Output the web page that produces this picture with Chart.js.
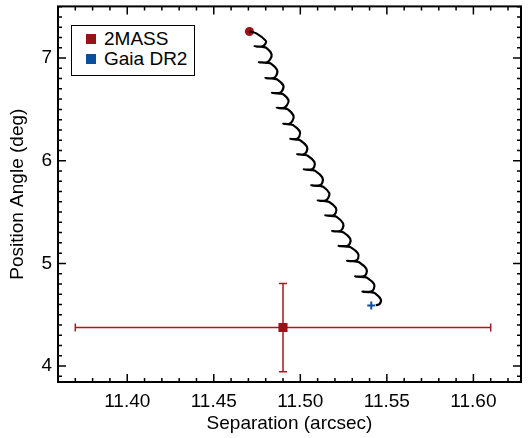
<!DOCTYPE html>
<html>
<head>
<meta charset="utf-8">
<script src="https://cdn.jsdelivr.net/npm/chart.js@4/dist/chart.umd.min.js"></script>
<style>
  body { margin: 0; background: #fff; }
  #wrap { position: relative; width: 528px; height: 438px; }
  .legend { position: absolute; left: 71px; top: 25px; width: 122px; height: 49px; border: 1px solid #000; background: #fff;
            font: 19px "Liberation Sans", Arial, sans-serif; color: #000; }
  .legend div { position: absolute; left: 14px; height: 20px; line-height: 20px; white-space: nowrap; }
  .legend span { display: inline-block; width: 10px; height: 10px; margin-right: 8px; vertical-align: 1px; }
</style>
</head>
<body>
<div id="wrap">
  <canvas id="chart" width="528" height="438"></canvas>
  <div class="legend">
    <div style="top:3px"><span style="background:#9b1116"></span>2MASS</div>
    <div style="top:23px"><span style="background:#0c4e9b"></span>Gaia DR2</div>
  </div>
</div>
<script>
/* --- DATA --- */
const sepTicks = [11.40, 11.45, 11.50, 11.55, 11.60];
const paTicks = [4, 5, 6, 7];

// predicted track (separation, position angle)
const pathSep = [
  11.4706, 11.4746, 11.4801, 11.4798,
  11.4781, 11.4735, 11.4781, 11.4804, 11.4834, 11.4824,
  11.4807, 11.4760, 11.4807, 11.4830, 11.4866, 11.4861,
  11.4844, 11.4798, 11.4844, 11.4867, 11.4902, 11.4896,
  11.4879, 11.4836, 11.4879, 11.4902, 11.4932, 11.4922,
  11.4905, 11.4864, 11.4905, 11.4928, 11.4961, 11.4953,
  11.4936, 11.4901, 11.4936, 11.4959, 11.4997, 11.4994,
  11.4977, 11.4942, 11.4977, 11.5000, 11.5038, 11.5036,
  11.5019, 11.4981, 11.5019, 11.5042, 11.5081, 11.5080,
  11.5063, 11.5020, 11.5063, 11.5086, 11.5127, 11.5127,
  11.5110, 11.5063, 11.5110, 11.5133, 11.5167, 11.5161,
  11.5144, 11.5100, 11.5144, 11.5167, 11.5206, 11.5204,
  11.5187, 11.5144, 11.5187, 11.5210, 11.5247, 11.5244,
  11.5227, 11.5183, 11.5227, 11.5250, 11.5288, 11.5286,
  11.5269, 11.5221, 11.5269, 11.5292, 11.5333, 11.5334,
  11.5317, 11.5269, 11.5317, 11.5340, 11.5381, 11.5381,
  11.5364, 11.5317, 11.5364, 11.5387, 11.5426, 11.5424,
  11.5407, 11.5359, 11.5407, 11.5430, 11.5465, 11.5458,
  11.5437
];
const pathPA = [
  7.259, 7.240, 7.167, 7.138,
  7.114, 7.114, 7.108, 7.100, 7.037, 6.983,
  6.959, 6.959, 6.953, 6.945, 6.882, 6.829,
  6.805, 6.805, 6.799, 6.791, 6.733, 6.684,
  6.660, 6.660, 6.654, 6.646, 6.588, 6.539,
  6.515, 6.515, 6.509, 6.501, 6.438, 6.384,
  6.360, 6.360, 6.354, 6.346, 6.286, 6.236,
  6.212, 6.212, 6.206, 6.198, 6.138, 6.087,
  6.063, 6.063, 6.057, 6.049, 5.989, 5.939,
  5.915, 5.915, 5.909, 5.901, 5.838, 5.784,
  5.760, 5.760, 5.754, 5.746, 5.686, 5.636,
  5.612, 5.612, 5.606, 5.598, 5.540, 5.491,
  5.467, 5.467, 5.461, 5.453, 5.391, 5.339,
  5.315, 5.315, 5.309, 5.301, 5.243, 5.194,
  5.170, 5.170, 5.164, 5.156, 5.098, 5.049,
  5.025, 5.025, 5.019, 5.011, 4.949, 4.897,
  4.873, 4.873, 4.867, 4.859, 4.799, 4.749,
  4.725, 4.725, 4.719, 4.711, 4.650, 4.605,
  4.592
];

const massSep = [11.49];
const massPA = [4.375];
const massSepErr = [0.12];
const massPAErr = [0.43];

const gaiaSep = [11.541];
const gaiaPA = [4.59];

const RED = '#9b1116';
const RED_BAR = '#a8181f';
const BLUE = '#0c4e9b';
const FONT = "'Liberation Sans', Arial, sans-serif";

/* --- PLUGINS --- */
const errorBars = {
  id: 'errorBars',
  beforeDatasetsDraw(chart) {
    const { ctx, scales: { x, y } } = chart;
    const cap = 4;
    ctx.save();
    ctx.strokeStyle = RED_BAR;
    ctx.lineWidth = 1.5;
    massSep.forEach((s, i) => {
      const cx = x.getPixelForValue(s);
      const cy = y.getPixelForValue(massPA[i]);
      const x0 = x.getPixelForValue(s - massSepErr[i]);
      const x1 = x.getPixelForValue(s + massSepErr[i]);
      const y0 = y.getPixelForValue(massPA[i] - massPAErr[i]);
      const y1 = y.getPixelForValue(massPA[i] + massPAErr[i]);
      ctx.beginPath();
      ctx.moveTo(x0, cy); ctx.lineTo(x1, cy);
      ctx.moveTo(x0, cy - cap); ctx.lineTo(x0, cy + cap);
      ctx.moveTo(x1, cy - cap); ctx.lineTo(x1, cy + cap);
      ctx.moveTo(cx, y0); ctx.lineTo(cx, y1);
      ctx.moveTo(cx - cap, y0); ctx.lineTo(cx + cap, y0);
      ctx.moveTo(cx - cap, y1); ctx.lineTo(cx + cap, y1);
      ctx.stroke();
    });
    ctx.restore();
  }
};

// box frame with inward ticks on all four sides
const frameTicks = {
  id: 'frameTicks',
  afterDatasetsDraw(chart) {
    const { ctx, chartArea: a, scales: { x, y } } = chart;
    ctx.save();
    ctx.strokeStyle = '#000';
    ctx.lineWidth = 1.5;
    ctx.beginPath();
    for (let k = 1137; k <= 1162; k++) {
      const px = x.getPixelForValue(k / 100);
      const len = k % 5 === 0 ? 8 : 4;
      ctx.moveTo(px, a.bottom); ctx.lineTo(px, a.bottom - len);
      ctx.moveTo(px, a.top); ctx.lineTo(px, a.top + len);
    }
    for (let k = 39; k <= 75; k++) {
      const py = y.getPixelForValue(k / 10);
      const len = k % 10 === 0 ? 8 : 4;
      ctx.moveTo(a.left, py); ctx.lineTo(a.left + len, py);
      ctx.moveTo(a.right, py); ctx.lineTo(a.right - len, py);
    }
    ctx.stroke();
    ctx.lineWidth = 2;
    ctx.strokeRect(a.left, a.top, a.right - a.left, a.bottom - a.top);
    ctx.restore();
  }
};

/* --- CHART --- */
new Chart(document.getElementById('chart'), {
  type: 'scatter',
  data: {
    datasets: [
      {
        label: 'track',
        data: pathSep.map((s, i) => ({ x: s, y: pathPA[i] })),
        showLine: true,
        borderColor: '#000',
        borderWidth: 2.2,
        tension: 0.4,
        pointRadius: 0
      },
      {
        label: 'start',
        data: [{ x: pathSep[0], y: pathPA[0] }],
        pointStyle: 'circle',
        pointRadius: 4.5,
        backgroundColor: RED,
        borderColor: RED,
        borderWidth: 0
      },
      {
        label: '2MASS',
        data: massSep.map((s, i) => ({ x: s, y: massPA[i] })),
        pointStyle: 'rect',
        pointRadius: 6.4,
        backgroundColor: RED,
        borderColor: RED,
        borderWidth: 0
      },
      {
        label: 'Gaia DR2',
        data: gaiaSep.map((s, i) => ({ x: s, y: gaiaPA[i] })),
        pointStyle: 'cross',
        pointRadius: 4,
        borderColor: BLUE,
        borderWidth: 2
      }
    ]
  },
  options: {
    responsive: false,
    animation: false,
    layout: { padding: { left: 0, right: 7, top: 4, bottom: 0 } },
    plugins: { legend: { display: false }, tooltip: { enabled: false } },
    scales: {
      x: {
        type: 'linear',
        min: 11.36,
        max: 11.6275,
        afterBuildTicks: s => { s.ticks = sepTicks.map(v => ({ value: v })); },
        afterFit: s => { s.height = 56; s.paddingLeft = 0; s.paddingRight = 0; },
        grid: { display: false, drawTicks: false },
        border: { display: false },
        ticks: {
          padding: 8,
          color: '#000',
          font: { family: FONT, size: 19 },
          callback: v => v.toFixed(2)
        },
        title: {
          display: true,
          text: 'Separation (arcsec)',
          color: '#000',
          font: { family: FONT, size: 19 },
          padding: { top: 0, bottom: 3 }
        }
      },
      y: {
        type: 'linear',
        min: 3.845,
        max: 7.503,
        afterBuildTicks: s => { s.ticks = paTicks.map(v => ({ value: v })); },
        afterFit: s => { s.width = 58; s.paddingTop = 0; s.paddingBottom = 0; },
        grid: { display: false, drawTicks: false },
        border: { display: false },
        ticks: {
          padding: 6,
          color: '#000',
          font: { family: FONT, size: 19 },
          callback: v => String(v)
        },
        title: {
          display: true,
          text: 'Position Angle (deg)',
          color: '#000',
          font: { family: FONT, size: 19 },
          padding: { top: 6, bottom: 0 }
        }
      }
    }
  },
  plugins: [errorBars, frameTicks]
});
</script>
</body>
</html>
